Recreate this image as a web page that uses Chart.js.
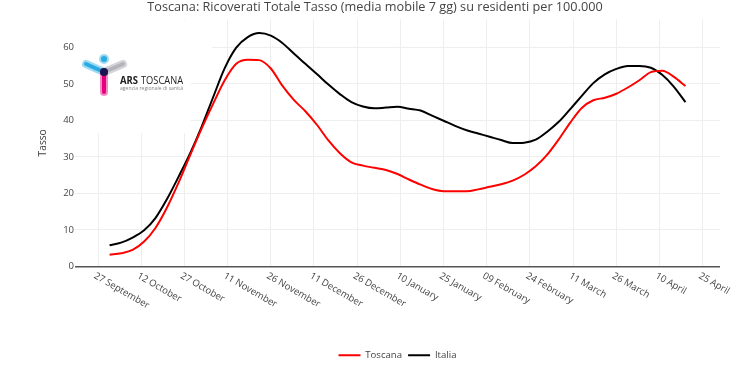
<!DOCTYPE html>
<html><head><meta charset="utf-8">
<script src="https://cdn.jsdelivr.net/npm/chart.js@4.4.1/dist/chart.umd.min.js"></script>
<style>html,body{margin:0;padding:0;background:#fff;}</style>
</head><body>
<canvas id="c" width="750" height="375"></canvas>
<script>
// day offsets counted from 27 September
const days = [4,8,12,16,20,24,28,32,36,40,44,48,52,56,60,64,68,72,76,80,84,88,92,96,100,104,108,112,116,120,124,128,132,136,140,144,148,152,156,160,164,168,172,176,180,184,188,192,196,200,204];
const toscana = [3.2,3.6,4.5,6.8,10.6,16.2,23.0,30.5,37.8,44.6,51.0,55.5,56.6,56.5,54.2,49.5,45.6,42.5,38.8,34.5,31.0,28.5,27.6,27.0,26.4,25.3,23.8,22.4,21.2,20.6,20.6,20.6,21.1,21.8,22.5,23.5,25.1,27.4,30.6,34.8,39.4,43.4,45.5,46.2,47.3,49.0,51.0,53.2,53.6,51.9,49.4];
const italia = [5.8,6.5,7.9,9.9,13.3,18.5,24.6,31.0,38.3,46.4,54.3,59.9,62.8,63.9,63.2,61.2,58.3,55.5,52.7,49.8,47.2,45.0,43.8,43.3,43.5,43.7,43.2,42.7,41.3,39.9,38.5,37.3,36.4,35.5,34.6,33.8,33.9,34.7,36.9,39.6,43.1,46.7,50.2,52.6,54.1,54.9,54.9,54.4,52.4,49.2,45.0];
const tickDays = [0,15,30,45,60,75,90,105,120,135,150,165,180,195,210];
const tickLabels = ["27 September","12 October","27 October","11 November","26 November","11 December","26 December","10 January","25 January","09 February","24 February","11 March","26 March","10 April","25 April"];
const yTicks = [0,10,20,30,40,50,60];

const FONT = "'Open Sans', sans-serif";
Chart.defaults.font.family = FONT;
Chart.defaults.color = '#444';

function fitText(ctx, text, x, y, w) {
  const m = ctx.measureText(text).width;
  ctx.save();
  ctx.translate(x, y);
  ctx.scale(w / m, 1);
  ctx.fillText(text, 0, 0);
  ctx.restore();
}

const logoPlugin = {
  id: 'logo',
  beforeDatasetsDraw(chart) {
    const ctx = chart.ctx;
    ctx.save();
    ctx.fillStyle = '#fff';
    ctx.fillRect(75, 20, 116, 113);
    ctx.fillRect(191, 20, 21, 45);
    ctx.lineCap = 'round';
    const cx = 104, cy = 72;
    const arms = [
      [[86, 64], 'rgba(41,171,226,0.45)', '#29abe2'],
      [[123, 64], 'rgba(160,160,170,0.45)', '#b4b4bc'],
      [[104, 92], 'rgba(230,0,126,0.45)', '#e6007e']
    ];
    arms.forEach(([p, halo, core]) => {
      ctx.strokeStyle = halo; ctx.lineWidth = 8;
      ctx.beginPath(); ctx.moveTo(cx, cy); ctx.lineTo(p[0], p[1]); ctx.stroke();
      ctx.strokeStyle = core; ctx.lineWidth = 4;
      ctx.beginPath(); ctx.moveTo(cx, cy); ctx.lineTo(p[0], p[1]); ctx.stroke();
    });
    ctx.fillStyle = 'rgba(41,171,226,0.45)';
    ctx.beginPath(); ctx.arc(104, 59, 5, 0, Math.PI * 2); ctx.fill();
    ctx.fillStyle = '#29abe2';
    ctx.beginPath(); ctx.arc(104, 59, 3, 0, Math.PI * 2); ctx.fill();
    ctx.fillStyle = '#1b1650';
    ctx.beginPath(); ctx.arc(cx, cy, 4, 0, Math.PI * 2); ctx.fill();
    ctx.fillStyle = '#222';
    ctx.textBaseline = 'alphabetic';
    ctx.font = "bold 11px 'Open Sans'";
    fitText(ctx, 'ARS', 120, 84, 18);
    ctx.font = "11px 'Open Sans'";
    fitText(ctx, 'TOSCANA', 141, 84, 42);
    ctx.fillStyle = '#888';
    ctx.font = "5px 'Open Sans'";
    fitText(ctx, 'agenzia regionale di sanità', 120, 89.5, 63);
    ctx.restore();
  },
  afterDraw(chart) {
    const ctx = chart.ctx, xs = chart.scales.x;
    ctx.save();
    ctx.fillStyle = '#444';
    ctx.font = "9.5px " + FONT;
    ctx.textAlign = 'left';
    ctx.textBaseline = 'top';
    tickDays.forEach((d, i) => {
      const px = xs.getPixelForValue(d);
      ctx.save();
      ctx.translate(px - 1, 271);
      ctx.rotate(Math.PI / 6);
      ctx.fillText(tickLabels[i], 0, 0);
      ctx.restore();
    });
    ctx.restore();
  }
};

new Chart(document.getElementById('c'), {
  type: 'line',
  data: {
    datasets: [
      { label: 'Toscana', data: days.map((d, i) => ({x: d, y: toscana[i]})), borderColor: '#ff0000', backgroundColor: '#ff0000', borderWidth: 2, pointRadius: 0, cubicInterpolationMode: 'monotone' },
      { label: 'Italia', data: days.map((d, i) => ({x: d, y: italia[i]})), borderColor: '#000000', backgroundColor: '#000000', borderWidth: 2, pointRadius: 0, cubicInterpolationMode: 'monotone' }
    ]
  },
  options: {
    responsive: false,
    animation: false,
    layout: { padding: { left: 30, right: 30, top: 0, bottom: 5 } },
    plugins: {
      title: { display: true, text: 'Toscana: Ricoverati Totale Tasso (media mobile 7 gg) su residenti per 100.000', color: '#444', font: { size: 12.7, weight: 'normal', family: FONT }, padding: { top: 0, bottom: 4 } },
      legend: { position: 'bottom', fullSize: false, labels: { usePointStyle: true, pointStyle: 'line', pointStyleWidth: 22, color: '#444', font: { size: 9.6, family: FONT }, padding: 6 } },
      tooltip: { enabled: false }
    },
    scales: {
      x: {
        type: 'linear', min: -8, max: 216,
        ticks: { display: false },
        grid: { color: '#eeeeee', lineWidth: 1, drawTicks: false },
        border: { display: false },
        afterBuildTicks: s => { s.ticks = tickDays.map(v => ({value: v})); },
        afterFit: s => { s.height = 78; }
      },
      y: {
        min: 0, max: 67.7,
        ticks: { color: '#444', font: { size: 9.5, family: FONT }, padding: 1 },
        grid: { color: c => c.tick && c.tick.value === 0 ? '#555' : '#eeeeee', lineWidth: c => c.tick && c.tick.value === 0 ? 1.5 : 1, drawTicks: false },
        border: { display: false },
        title: { display: true, text: 'Tasso', color: '#444', font: { size: 10.2, family: FONT }, padding: { top: 7, bottom: 0 } },
        afterBuildTicks: s => { s.ticks = yTicks.map(v => ({value: v})); },
        afterFit: s => { s.width = 45; }
      }
    }
  },
  plugins: [logoPlugin]
});
</script>
</body></html>
